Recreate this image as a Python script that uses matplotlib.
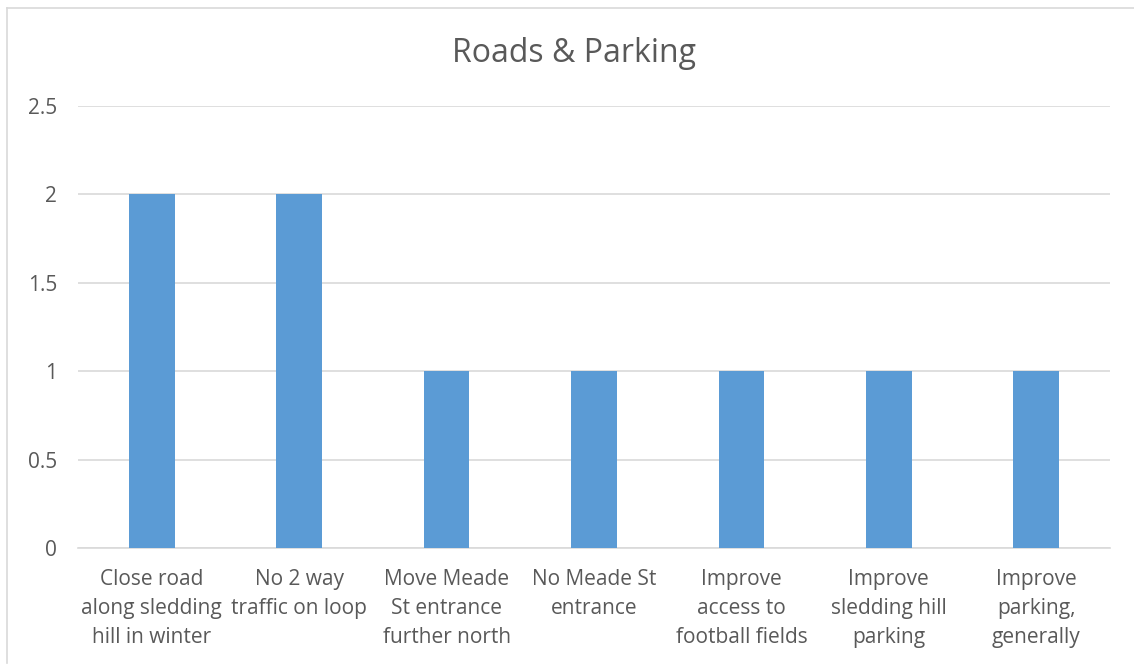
import matplotlib
matplotlib.use("Agg")
import matplotlib.pyplot as plt
from matplotlib.lines import Line2D

categories = [
    "Close road\nalong sledding\nhill in winter",
    "No 2 way\ntraffic on loop",
    "Move Meade\nSt entrance\nfurther north",
    "No Meade St\nentrance",
    "Improve\naccess to\nfootball fields",
    "Improve\nsledding hill\nparking",
    "Improve\nparking,\ngenerally",
]
values = [2, 2, 1, 1, 1, 1, 1]
yticks = [0, 0.5, 1, 1.5, 2, 2.5]
ytick_labels = ["0", "0.5", "1", "1.5", "2", "2.5"]
title = "Roads & Parking"

plt.rcParams['font.family'] = ['Open Sans', 'DejaVu Sans']
W, H = 1134, 666
fig = plt.figure(figsize=(W / 100, H / 100), dpi=100)
ax = fig.add_axes([78 / W, 1 - 548 / H, (1110 - 78) / W, (548 - 106) / H])

x = list(range(len(categories)))
ax.bar(x, values, width=0.31, color="#5B9BD5", zorder=3)
ax.set_xlim(-0.5, len(categories) - 0.5)
ax.set_ylim(0, 2.5)
ax.set_yticks(yticks)
ax.set_yticklabels(ytick_labels)
ax.set_xticks(x)
ax.set_xticklabels(categories, linespacing=1.5)
ax.yaxis.grid(True, color="#D9D9D9", linewidth=1.2, zorder=0)
for s in ["top", "right", "left"]:
    ax.spines[s].set_visible(False)
ax.spines["bottom"].set_color("#D9D9D9")
ax.spines["bottom"].set_linewidth(1.2)
ax.tick_params(axis="both", length=0, colors="#595959", labelsize=15)
ax.tick_params(axis="y", pad=15)
ax.tick_params(axis="x", pad=15)

fig.text(574 / W, 1 - 53 / H, title, ha="center", va="center", fontsize=23, color="#595959")

fig.add_artist(Line2D([7 / W, 1.0], [1 - 8 / H, 1 - 8 / H], transform=fig.transFigure, color="#D9D9D9", linewidth=1.2))
fig.add_artist(Line2D([7 / W, 7 / W], [1 - 8 / H, 1 - 663 / H], transform=fig.transFigure, color="#D9D9D9", linewidth=1.2))

fig.savefig("out.png", dpi=100)
